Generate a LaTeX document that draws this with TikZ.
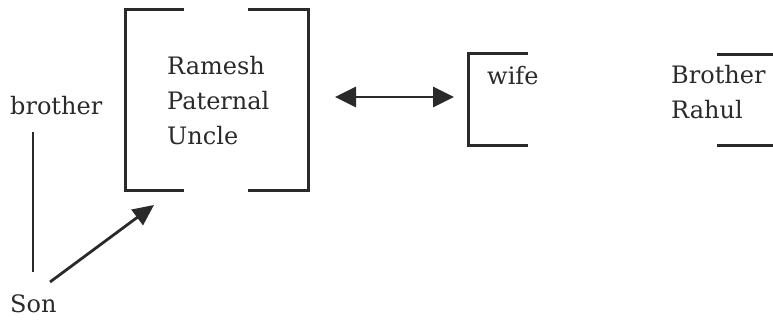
\documentclass[tikz,border=0pt]{standalone}
\usepackage{fontspec}
\setmainfont{DejaVu Serif}
\usetikzlibrary{arrows.meta}
\definecolor{ink}{HTML}{2A2A2A}
\definecolor{txt}{HTML}{2A2A2A}
\tikzset{
  lbl/.style={inner sep=0pt, anchor=base west, text=txt, font=\fontsize{24}{35}\selectfont, align=left},
  brk/.style={draw=ink, line width=3pt, line join=miter, line cap=butt},
  conn/.style={draw=ink, line width=2.8pt},
  tip/.style={-{Triangle[length=21pt,width=19pt]}},
  dtip/.style={{Triangle[length=21pt,width=20pt]}-{Triangle[length=21pt,width=20pt]}}
}
\begin{document}
\begin{tikzpicture}[x=1pt,y=-1pt]
\useasboundingbox (0,0) rectangle (773,320);
% big bracket
\draw[brk] (184,10) -- (125,10) -- (125,191) -- (184,191);
\draw[brk] (248,10) -- (308,10) -- (308,191) -- (248,191);
% wife bracket
\draw[brk] (528,54) -- (468,54) -- (468,146) -- (528,146);
% Rahul bracket lines
\draw[brk] (717,55) -- (773,55);
\draw[brk] (717,146) -- (773,146);
% labels
\node[lbl] (ramesh) at (167,145) {Ramesh\\Paternal\\Uncle};
\node[lbl] (wife) at (487,85) {wife};
\node[lbl] (rahul) at (671,119) {Brother\\Rahul};
\node[lbl] (brother) at (10,115) {brother};
\node[lbl] (son) at (10,312) {Son};
% connectors
\coordinate (bT) at (33,132);
\coordinate (sT) at (33,272);
\draw[conn] (bT) -- (sT);
\coordinate (sonA) at (50,282);
\coordinate (uncA) at (154,205);
\draw[conn,tip] (sonA) -- (uncA);
\coordinate (dL) at (335,97);
\coordinate (dR) at (454,97);
\draw[conn,dtip] (dL) -- (dR);
\end{tikzpicture}
\end{document}
